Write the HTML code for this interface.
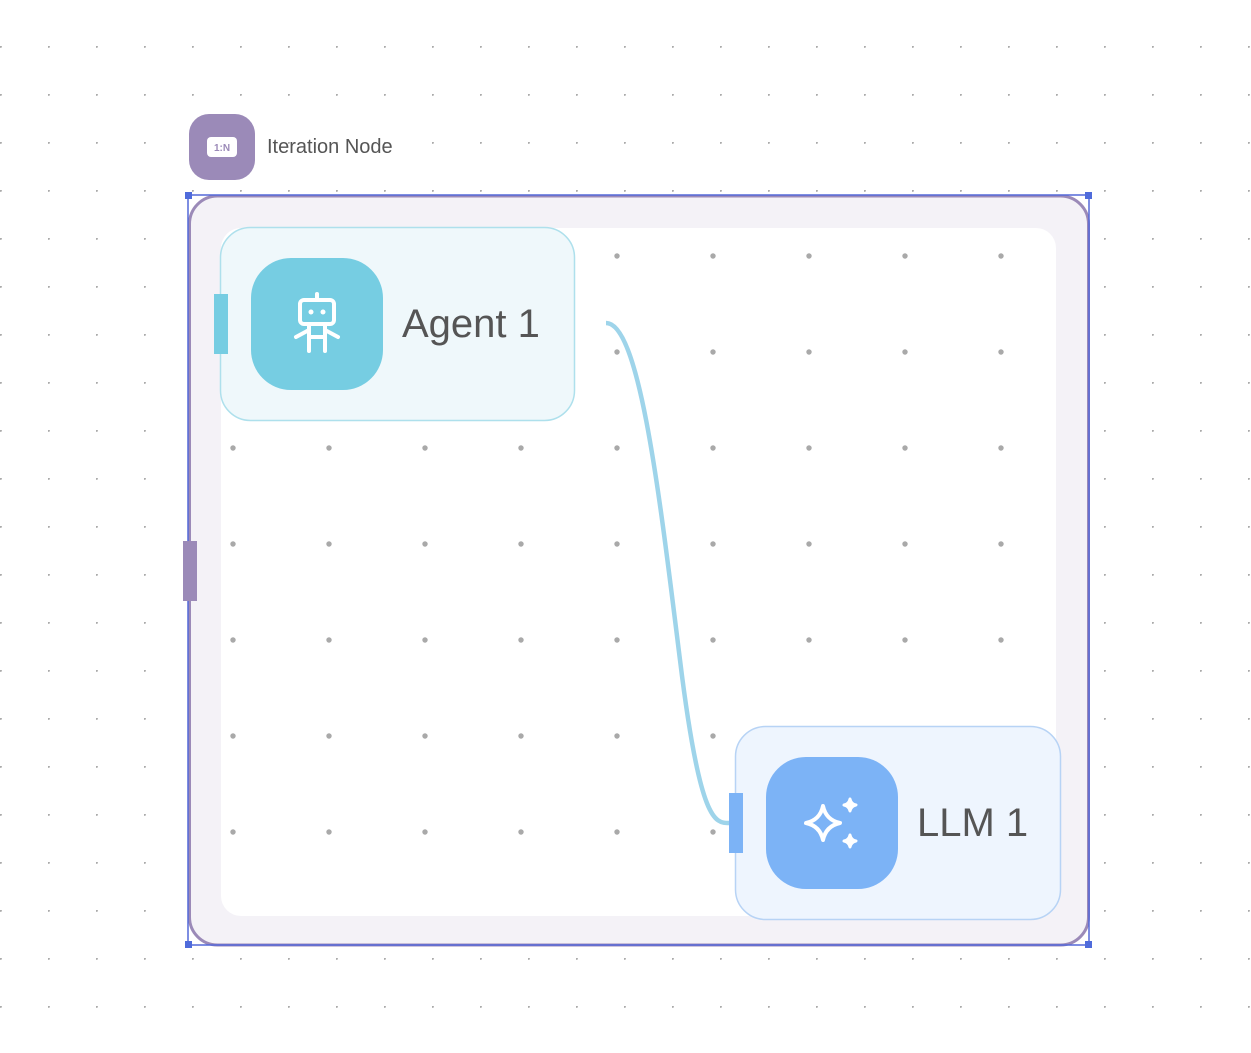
<!DOCTYPE html>
<html><head><meta charset="utf-8"><style>
body{margin:0;width:1251px;height:1053px;overflow:hidden;background:#fff;font-family:"Liberation Sans",sans-serif;position:relative}
.a{position:absolute;box-sizing:border-box}
</style></head><body>
<svg class="a" style="left:0;top:0" width="1251" height="1053">
<defs>
<pattern id="p" x="0" y="46" width="48" height="48" patternUnits="userSpaceOnUse"><circle cx="0.8" cy="0.8" r="1.1" fill="#aaa"/></pattern>
<pattern id="q" x="232" y="255" width="96" height="96" patternUnits="userSpaceOnUse"><circle cx="1" cy="1" r="2.7" fill="#a9a9a9"/><circle cx="97" cy="1" r="2.7" fill="#a9a9a9"/><circle cx="1" cy="97" r="2.7" fill="#a9a9a9"/><circle cx="97" cy="97" r="2.7" fill="#a9a9a9"/></pattern>
</defs>
<rect width="1251" height="1053" fill="url(#p)"/>
<rect x="189.5" y="196" width="899" height="749" rx="28" fill="#f4f2f7" stroke="#9b8ab8" stroke-width="3"/>
<rect x="221" y="228" width="835" height="688" rx="20" fill="#fff"/>
<rect x="221" y="228" width="835" height="688" rx="20" fill="url(#q)"/>
<rect x="188" y="195" width="901" height="750" fill="none" stroke="#5468d8" stroke-width="1.5"/>
<rect x="185" y="192" width="7" height="7" fill="#4f6bdb"/><rect x="1085" y="192" width="7" height="7" fill="#4f6bdb"/>
<rect x="185" y="941" width="7" height="7" fill="#4f6bdb"/><rect x="1085" y="941" width="7" height="7" fill="#4f6bdb"/>
<rect x="183" y="541" width="14" height="60" fill="#9b8ab8"/>
<rect x="220.5" y="227.5" width="354" height="193" rx="30" fill="#eff8fb" stroke="#aee0ec" stroke-width="1.5"/>
<rect x="214" y="294" width="14" height="60" fill="#76cde2"/>
<rect x="251" y="258" width="132" height="132" rx="40" fill="#76cde2"/>
<g fill="none" stroke="#fff" stroke-width="4" stroke-linecap="round" stroke-linejoin="round">
<line x1="317" y1="294" x2="317" y2="300"/>
<rect x="300" y="300" width="34" height="24" rx="4"/>
<line x1="296" y1="337" x2="309" y2="330"/><line x1="338" y1="337" x2="325" y2="330"/>
<line x1="309" y1="324" x2="309" y2="351"/><line x1="325" y1="324" x2="325" y2="351"/>
<line x1="309" y1="337" x2="325" y2="337"/>
</g>
<circle cx="311" cy="312" r="2.5" fill="#fff"/><circle cx="323" cy="312" r="2.5" fill="#fff"/>
<text x="402" y="337" font-size="40" fill="#555" font-family="Liberation Sans">Agent 1</text>
<path d="M606,323 C640,323 660,500 680,660 C700,823 715,823 729,823" fill="none" stroke="#9ed4ea" stroke-width="4.5"/>
<rect x="735.5" y="726.5" width="325" height="193" rx="30" fill="#eef5fe" stroke="#b7d3f5" stroke-width="1.5"/>
<rect x="729" y="793" width="14" height="60" fill="#7cb3f6"/>
<rect x="766" y="757" width="132" height="132" rx="40" fill="#7cb3f6"/>
<g fill="none" stroke="#fff" stroke-width="4" stroke-linejoin="round">
<path d="M823,806 Q826,820 840,823 Q826,826 823,840 Q820,826 806,823 Q820,820 823,806Z"/>
</g>
<g fill="#fff" stroke="#fff" stroke-width="3" stroke-linejoin="round">
<path d="M850,799 Q851,804 856,805 Q851,806 850,811 Q849,806 844,805 Q849,804 850,799Z"/>
<path d="M850,835 Q851,840 856,841 Q851,842 850,847 Q849,842 844,841 Q849,840 850,835Z"/>
</g>
<text x="917" y="836" font-size="40" fill="#555" font-family="Liberation Sans">LLM 1</text>
<rect x="189" y="114" width="66" height="66" rx="20" fill="#9b8ab8"/>
<rect x="207" y="137" width="30" height="20" rx="4" fill="#fff"/>
<text x="222" y="151" font-size="10" font-weight="bold" fill="#9b8ab8" text-anchor="middle" font-family="Liberation Sans">1:N</text>
<text x="267" y="153" font-size="20" fill="#555" font-family="Liberation Sans">Iteration Node</text>
</svg>
</body></html>
